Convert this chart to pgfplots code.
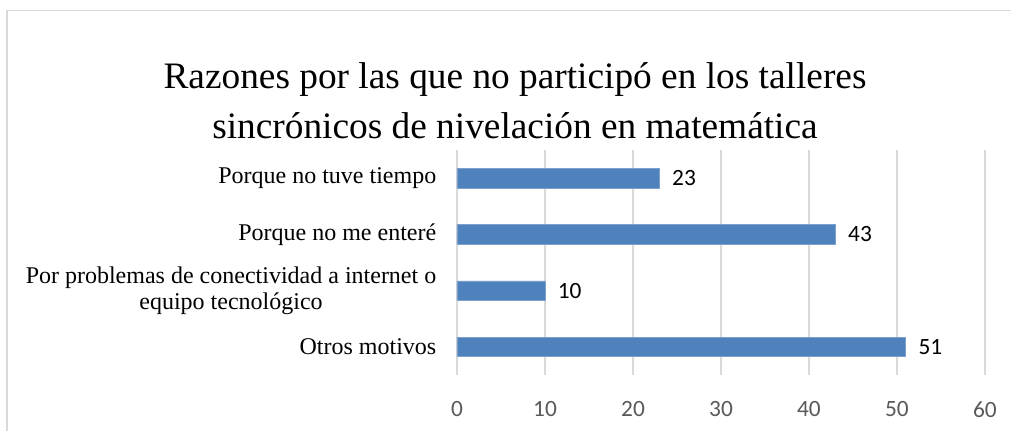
\documentclass[border=0pt]{standalone}
\usepackage{pgfplots}
\pgfplotsset{compat=1.18}
\usepackage{fontspec}
\setmainfont{Liberation Serif}
\newfontfamily\calibri{Carlito}
\definecolor{barblue}{HTML}{4F81BD}
\definecolor{gridgray}{HTML}{D9D9D9}
\definecolor{ticktext}{HTML}{595959}
\begin{document}
\begin{tikzpicture}
\useasboundingbox (0,0) rectangle (758.25pt,323.25pt);
% chart frame (cropped at right and bottom)
\draw[gridgray, line width=1pt] (5.25pt,-5pt) -- (5.25pt,315.4pt) -- (765pt,315.4pt);
\node[font=\fontsize{28}{37.5}\selectfont, align=center] at (386.25pt,248pt)
  {Razones por las que no participó en los talleres\\sincrónicos de nivelación en matemática};
\begin{axis}[
    at={(342.75pt,42pt)}, anchor=south west,
    scale only axis, width=396pt, height=168.75pt,
    xbar, bar width=14.6pt,
    xmin=0, xmax=60, ymin=-0.5, ymax=3.5,
    xtick={0,10,...,60},
    ytick={0,1,2,3},
    yticklabels={Otros motivos,
      {Por problemas de conectividad a internet o\\equipo tecnológico},
      Porque no me enteré, Porque no tuve tiempo},
    axis line style={draw=none},
    major tick length=0pt,
    xmajorgrids, major grid style={gridgray, line width=1pt},
    xticklabel style={font=\calibri\fontsize{17.5}{20}\selectfont, text=ticktext, yshift=-16.5pt},
    yticklabel style={font=\fontsize{18}{19.5}\selectfont, align=center, xshift=-12pt},
    /pgf/number format/assume math mode=true,
    point meta=x,
    nodes near coords,
    nodes near coords style={font=\calibri\fontsize{17.5}{20}\selectfont, text=black, xshift=6pt},
  ]
  \addplot[fill=barblue, draw=barblue!75!white, line width=0.5pt]
    coordinates {(51,0) (10,1) (43,2) (23,3)};
\end{axis}
\end{tikzpicture}
\end{document}
